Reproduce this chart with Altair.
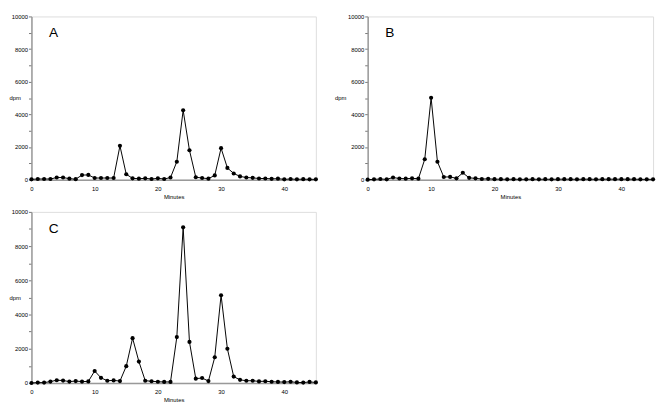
import altair as alt
import pandas as pd

FONT = "Liberation Sans"

minutes = list(range(46))

dpm_a = [20, 40, 40, 40, 130, 130, 60, 30, 280, 290,
         100, 100, 100, 100, 2070, 330, 80, 60, 80, 40,
         80, 40, 130, 1100, 4250, 1800, 150, 100, 60, 260,
         1930, 720, 380, 200, 130, 110, 70, 70, 50, 60,
         20, 40, 20, 30, 20, 20]

dpm_b = [0, 20, 40, 20, 130, 70, 60, 80, 60, 1250,
         5020, 1100, 160, 170, 80, 420, 110, 80, 40, 50,
         30, 30, 20, 30, 20, 20, 30, 20, 30, 20,
         30, 30, 30, 20, 30, 30, 20, 30, 30, 30,
         30, 30, 30, 20, 20, 20]

dpm_c = [0, 20, 20, 80, 160, 140, 80, 110, 80, 90,
         700, 300, 130, 150, 110, 980, 2620, 1250, 130, 100,
         70, 60, 60, 2680, 9100, 2400, 250, 290, 110, 1500,
         5130, 2000, 370, 180, 130, 130, 90, 100, 70, 60,
         50, 70, 30, 20, 60, 30]

x_ticks = [0, 10, 20, 30, 40]
y_ticks = list(range(0, 10001, 1000))


def panel(values, letter, title_x, w, h):
    df = pd.DataFrame({"Minutes": minutes, "dpm": values})
    x = alt.X("Minutes:Q",
              scale=alt.Scale(domain=[0, 45], nice=False, zero=False),
              axis=alt.Axis(values=x_ticks, ticks=False, grid=False,
                            labelFontSize=6, labelPadding=6, labelFont=FONT,
                            labelColor="black", labelFlush=False,
                            labelOverlap=False,
                            title="Minutes", titleFontSize=6, titleFont=FONT,
                            titleFontWeight="normal", titlePadding=2,
                            titleColor="black",
                            domainColor="#999", domainWidth=1.5))
    y = alt.Y("dpm:Q",
              scale=alt.Scale(domain=[0, 10000], nice=False),
              axis=alt.Axis(values=y_ticks,
                            labelExpr="datum.value % 2000 === 0 ? datum.label : ''",
                            format="d", tickSize=3, tickColor="#777",
                            tickWidth=1,
                            grid=False, labelFontSize=6, labelPadding=1,
                            labelFont=FONT, labelColor="black",
                            labelOverlap=False, labelFlush=False,
                            title="dpm", titleAngle=0, titleX=title_x,
                            titleY=h / 2, titleAlign="left",
                            titleBaseline="middle", titleFontSize=6,
                            titleFont=FONT, titleFontWeight="normal",
                            titleColor="black",
                            domainColor="#999", domainWidth=1.5))
    base = alt.Chart(df)
    line = base.mark_line(color="black", strokeWidth=1).encode(x=x, y=y)
    pts = base.mark_circle(color="black", size=18, opacity=1).encode(x=x, y=y)
    lab = alt.Chart(pd.DataFrame({"Minutes": [3.5], "dpm": [9000], "t": [letter]})).mark_text(
        fontSize=14, font=FONT, color="black", align="center", baseline="middle"
    ).encode(x=x, y=y, text="t:N")
    return alt.layer(line, pts, lab).properties(width=w, height=h)


a = panel(dpm_a, "A", -23, 291, 167)
b = panel(dpm_b, "B", -34, 292, 167)
c = panel(dpm_c, "C", -23, 291, 175)

chart = alt.vconcat(
    alt.hconcat(a, b, spacing=15),
    c,
    spacing=8,
).properties(
    padding={"left": 0, "top": 0, "right": 0, "bottom": 0}
).configure_view(
    stroke="#999", strokeWidth=1.5
).configure_axis(
    labelOverlap=False
).configure(background="white")

chart.save("out.html", embed_options={"renderer": "svg", "actions": False})
